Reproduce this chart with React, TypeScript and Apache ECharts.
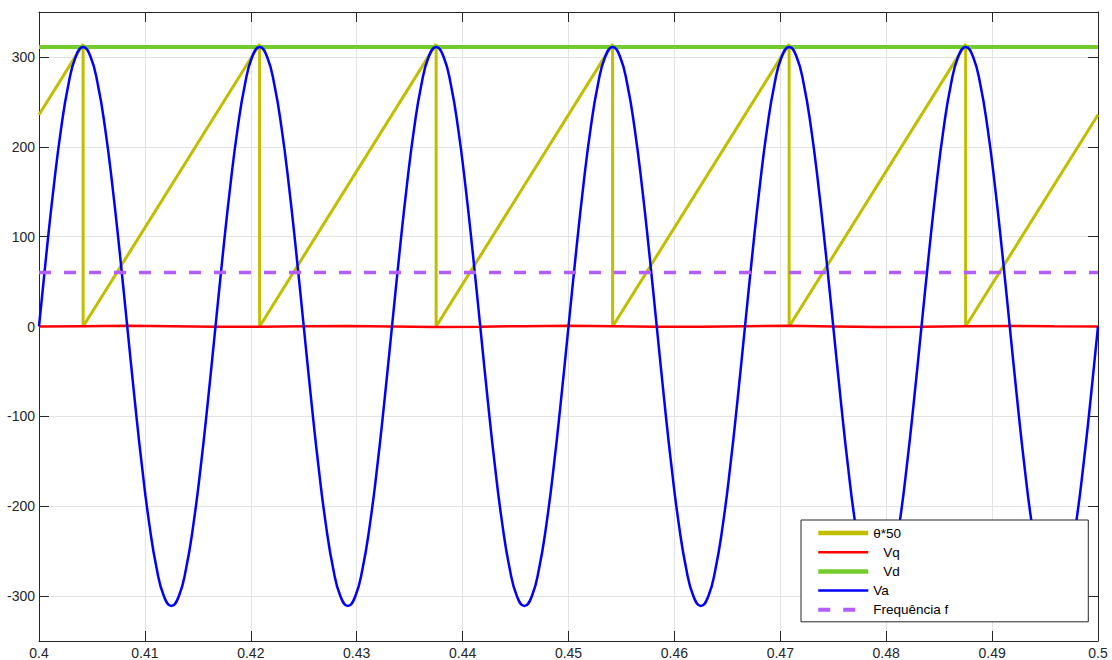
import { useEffect, useRef } from 'react';
import * as echarts from 'echarts';

const FONT = "'Liberation Sans', Arial, Helvetica, sans-serif";
const INK = '#262626';
const GRID_COLOR = '#e3e3e3';

const X_MIN = 0.4;
const X_MAX = 0.5;
const X_INTERVAL = 0.01;
const Y_FRAME_MIN = -350;
const Y_FRAME_MAX = 350;
const Y_TICK_MIN = -300;
const Y_TICK_MAX = 300;
const Y_INTERVAL = 100;

const seriesNames = ['θ*50', 'Vq', 'Vd', 'Va', 'Frequência f'];

// Va sampled every 1/1440 s starting at 0.4 s
const vaStart = 0.4;
const vaStep = 1 / 1440;
const vaValues = [
  0, 80.5, 155.5, 219.9, 269.3, 300.4, 311, 300.4, 269.3, 219.9, 155.5, 80.5, 0, -80.5, -155.5, -219.9, -269.3, -300.4, -311, -300.4, -269.3, -219.9, -155.5, -80.5,
  0, 80.5, 155.5, 219.9, 269.3, 300.4, 311, 300.4, 269.3, 219.9, 155.5, 80.5, 0, -80.5, -155.5, -219.9, -269.3, -300.4, -311, -300.4, -269.3, -219.9, -155.5, -80.5,
  0, 80.5, 155.5, 219.9, 269.3, 300.4, 311, 300.4, 269.3, 219.9, 155.5, 80.5, 0, -80.5, -155.5, -219.9, -269.3, -300.4, -311, -300.4, -269.3, -219.9, -155.5, -80.5,
  0, 80.5, 155.5, 219.9, 269.3, 300.4, 311, 300.4, 269.3, 219.9, 155.5, 80.5, 0, -80.5, -155.5, -219.9, -269.3, -300.4, -311, -300.4, -269.3, -219.9, -155.5, -80.5,
  0, 80.5, 155.5, 219.9, 269.3, 300.4, 311, 300.4, 269.3, 219.9, 155.5, 80.5, 0, -80.5, -155.5, -219.9, -269.3, -300.4, -311, -300.4, -269.3, -219.9, -155.5, -80.5,
  0, 80.5, 155.5, 219.9, 269.3, 300.4, 311, 300.4, 269.3, 219.9, 155.5, 80.5, 0, -80.5, -155.5, -219.9, -269.3, -300.4, -311, -300.4, -269.3, -219.9, -155.5, -80.5,
  0,
];

// θ*50 sawtooth
const thetaTimes = [0.4, 0.404167, 0.404167, 0.420833, 0.420833, 0.4375, 0.4375, 0.454167, 0.454167, 0.470833, 0.470833, 0.4875, 0.4875, 0.5];
const thetaValues = [235.6, 314.2, 0, 314.2, 0, 314.2, 0, 314.2, 0, 314.2, 0, 314.2, 0, 235.6];

// Vq sampled every 1/240 s starting at 0.4 s
const vqStart = 0.4;
const vqStep = 1 / 240;
const vqValues = [0, 0.4, 0.8, 0.2, -0.4, -0.3, 0.3, 0.6, 0.1, -0.5, -0.2, 0.4, 0.7, 0.2, -0.4, -0.3, 0.3, 0.7, 0.1, -0.5, -0.2, 0.4, 0.6, 0.2, 0];

const vdTimes = [0.4, 0.5];
const vdValues = [311, 311];

const freqTimes = [0.4, 0.5];
const freqValues = [60, 60];

const colors = {
  theta: '#bfbf00',
  vq: '#ff0000',
  vd: '#74cc2c',
  va: '#0000ff',
  freq: '#b35cff',
};

const lineWidths = [3, 2.5, 4, 2.5, 3.5];
const legendLineWidths = [4.5, 2.5, 4.5, 2.5, 4];

function pairs(times: number[], values: number[]) {
  return values.map((v, i) => [times[i], v]);
}
function sampled(start: number, step: number, values: number[]) {
  return values.map((v, i) => [start + i * step, v]);
}

export default function App() {
  const ref = useRef<HTMLDivElement>(null);

  useEffect(() => {
    if (!ref.current) return;
    const chart = echarts.init(ref.current, undefined, { renderer: 'svg' });

    const left = 39;
    const top = 12;
    const width = 1059;
    const height = 629;
    const pxPerUnit = height / (Y_FRAME_MAX - Y_FRAME_MIN);
    const topB = top + (Y_FRAME_MAX - Y_TICK_MAX) * pxPerUnit;
    const heightB = (Y_TICK_MAX - Y_TICK_MIN) * pxPerUnit;

    const baseLine = {
      type: 'line',
      xAxisIndex: 0,
      yAxisIndex: 0,
      symbol: 'none',
      showSymbol: false,
      silent: true,
      emphasis: { disabled: true },
    };

    chart.setOption({
      animation: false,
      backgroundColor: '#ffffff',
      textStyle: { fontFamily: FONT },
      grid: [
        { left, top, width, height, containLabel: false },
        { left, top: topB, width, height: heightB, containLabel: false },
      ],
      xAxis: [
        {
          type: 'value', gridIndex: 0, position: 'bottom',
          min: X_MIN, max: X_MAX, interval: X_INTERVAL,
          axisLine: { show: true, onZero: false, lineStyle: { color: INK, width: 1 } },
          axisTick: { show: true, inside: true, length: 10, lineStyle: { color: INK } },
          axisLabel: { show: true, margin: 5, fontSize: 14, color: INK, fontFamily: FONT },
          splitLine: { show: true, lineStyle: { color: GRID_COLOR, width: 1 } },
        },
        {
          type: 'value', gridIndex: 0, position: 'top',
          min: X_MIN, max: X_MAX, interval: X_INTERVAL,
          axisLine: { show: true, onZero: false, lineStyle: { color: INK, width: 1 } },
          axisTick: { show: true, inside: true, length: 10, lineStyle: { color: INK } },
          axisLabel: { show: false },
          splitLine: { show: false },
        },
        {
          type: 'value', gridIndex: 1, show: false, min: X_MIN, max: X_MAX,
        },
      ],
      yAxis: [
        {
          type: 'value', gridIndex: 0, position: 'left',
          min: Y_FRAME_MIN, max: Y_FRAME_MAX,
          axisLine: { show: true, onZero: false, lineStyle: { color: INK, width: 1 } },
          axisTick: { show: false }, axisLabel: { show: false }, splitLine: { show: false },
        },
        {
          type: 'value', gridIndex: 0, position: 'right',
          min: Y_FRAME_MIN, max: Y_FRAME_MAX,
          axisLine: { show: true, onZero: false, lineStyle: { color: INK, width: 1 } },
          axisTick: { show: false }, axisLabel: { show: false }, splitLine: { show: false },
        },
        {
          type: 'value', gridIndex: 1, position: 'left',
          min: Y_TICK_MIN, max: Y_TICK_MAX, interval: Y_INTERVAL,
          axisLine: { show: false },
          axisTick: { show: true, inside: true, length: 10, lineStyle: { color: INK } },
          axisLabel: { show: true, margin: 4, fontSize: 14, color: INK, fontFamily: FONT },
          splitLine: { show: true, lineStyle: { color: GRID_COLOR, width: 1 } },
        },
        {
          type: 'value', gridIndex: 1, position: 'right',
          min: Y_TICK_MIN, max: Y_TICK_MAX, interval: Y_INTERVAL,
          axisLine: { show: false },
          axisTick: { show: true, inside: true, length: 10, lineStyle: { color: INK } },
          axisLabel: { show: false },
          splitLine: { show: false },
        },
      ],
      legend: {
        data: seriesNames.map((name, i) => ({
          name,
          lineStyle: { width: legendLineWidths[i] },
        })),
        orient: 'vertical',
        left: 801,
        top: 520,
        padding: [6, 140, 5, 15],
        itemWidth: 50,
        itemHeight: 14,
        itemGap: 5.2,
        backgroundColor: '#ffffff',
        borderColor: INK,
        borderWidth: 1,
        borderRadius: 0,
        selectedMode: false,
        itemStyle: { opacity: 0 },
        textStyle: {
          fontSize: 13.5,
          color: '#000000',
          fontFamily: FONT,
          rich: {
            p: { padding: [0, 0, 0, 10], fontSize: 13.5, color: '#000000', fontFamily: FONT },
          },
        },
        formatter: (name: string) => (name === 'Vq' || name === 'Vd' ? `{p|${name}}` : name),
      },
      series: [
        {
          ...baseLine, name: seriesNames[0],
          data: pairs(thetaTimes, thetaValues),
          lineStyle: { color: colors.theta, width: lineWidths[0] },
          itemStyle: { color: colors.theta },
        },
        {
          ...baseLine, name: seriesNames[1],
          data: sampled(vqStart, vqStep, vqValues),
          lineStyle: { color: colors.vq, width: lineWidths[1] },
          itemStyle: { color: colors.vq },
        },
        {
          ...baseLine, name: seriesNames[2],
          data: pairs(vdTimes, vdValues),
          lineStyle: { color: colors.vd, width: lineWidths[2] },
          itemStyle: { color: colors.vd },
        },
        {
          ...baseLine, name: seriesNames[3],
          data: sampled(vaStart, vaStep, vaValues),
          smooth: true,
          lineStyle: { color: colors.va, width: lineWidths[3] },
          itemStyle: { color: colors.va },
        },
        {
          ...baseLine, name: seriesNames[4],
          data: pairs(freqTimes, freqValues),
          lineStyle: { color: colors.freq, width: lineWidths[4], type: [12, 13] },
          itemStyle: { color: colors.freq },
        },
      ],
    });

    return () => {
      chart.dispose();
    };
  }, []);

  return (
    <div
      ref={ref}
      style={{ position: 'fixed', left: 0, top: 0, width: 1112, height: 660, background: '#fff' }}
    />
  );
}
